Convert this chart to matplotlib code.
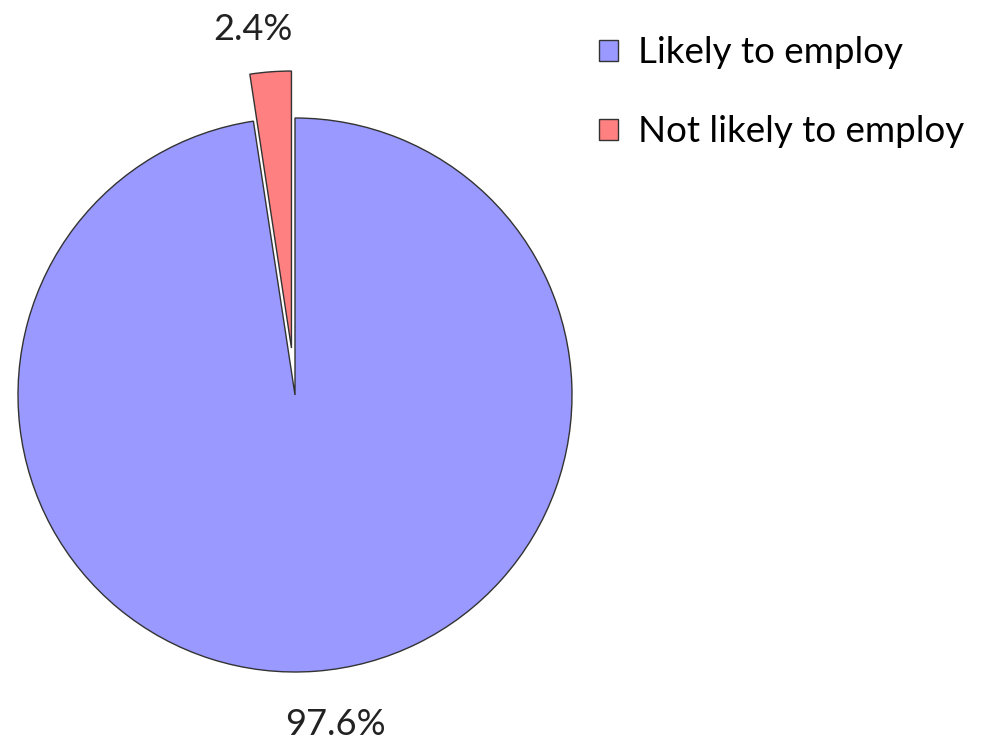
import matplotlib.pyplot as plt

categorias = ['Likely to employ', 'Not likely to employ']
porcentajes = [97.6, 2.4]
colores = ['#9999FF', '#FF8080']
separacion = [0, 0.17]

plt.rcParams['font.family'] = ['Lato', 'DejaVu Sans']

fig = plt.figure(figsize=(9.87, 7.41), dpi=100)
ax = fig.add_axes([0, 0, 1, 1])

wedges, textos = ax.pie(porcentajes, colors=colores, explode=separacion,
                        startangle=90, counterclock=False,
                        labels=[f'{p}%' for p in porcentajes],
                        labeldistance=1.17,
                        wedgeprops={'edgecolor': '#333333', 'linewidth': 1.0},
                        textprops={'fontsize': 26, 'color': '#222222'})
# posicions de les etiquetes com a l'original
textos[0].set_position((0.145, -1.19))
textos[1].set_position((-0.152, 1.318))
for t in textos:
    t.set_ha('center')
    t.set_va('center')

# el centre del pastís a (295, 395) px, radi 277 px
px = 277
ax.set_aspect('auto')
ax.set_xlim(-295 / px, (987 - 295) / px)
ax.set_ylim(-(741 - 395) / px, 395 / px)
ax.axis('off')

leg = fig.legend(wedges, categorias, loc='upper left',
                 bbox_to_anchor=(566 / 987, 1 - 3 / 741),
                 frameon=False, fontsize=26.5, handlelength=0.5,
                 handleheight=0.5, handletextpad=0.55, labelspacing=1.25)

plt.savefig('out.png', dpi=100)
